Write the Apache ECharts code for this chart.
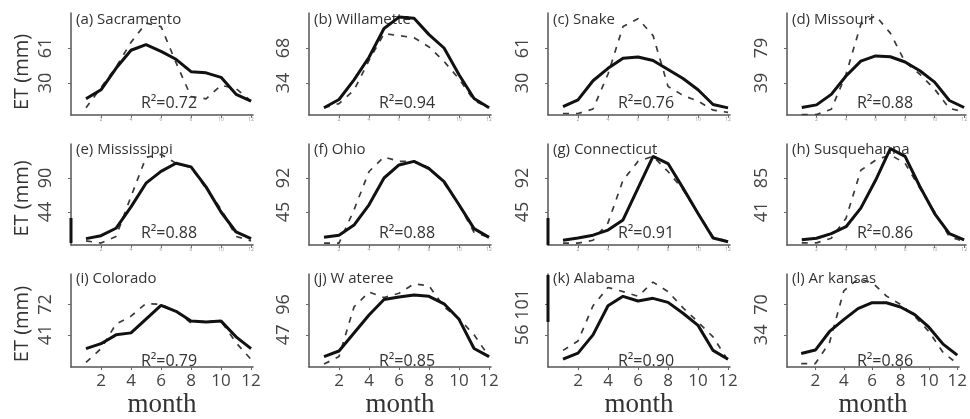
<!DOCTYPE html>
<html><head><meta charset="utf-8">
<script src="https://cdn.jsdelivr.net/npm/echarts@6/dist/echarts.min.js"></script>
<style>html,body{margin:0;padding:0;background:#fff}#c{width:970px;height:419px}</style>
</head><body><div id="c"></div>
<script>
// ---- data ----
const months = [1, 2, 3, 4, 5, 6, 7, 8, 9, 10, 11, 12];
const xTickLabels = [2, 4, 6, 8, 10, 12];
const panelTitles = ['(a) Sacramento', '(b) Willamette', '(c) Snake', '(d) Missouri',
  '(e) Mississippi', '(f) Ohio', '(g) Connecticut', '(h) Susquehanna',
  '(i) Colorado', '(j) W ateree', '(k) Alabama', '(l) Ar kansas'];
const r2Labels = ['R²=0.72', 'R²=0.94', 'R²=0.76', 'R²=0.88',
  'R²=0.88', 'R²=0.88', 'R²=0.91', 'R²=0.86',
  'R²=0.79', 'R²=0.85', 'R²=0.90', 'R²=0.86'];
const yTickLabels = [[30, 61], [34, 68], [30, 61], [39, 79],
  [44, 90], [45, 92], [45, 92], [41, 85],
  [41, 72], [47, 96], [56, 101], [34, 70]];

const sacramentoSolid  = [16, 24, 43, 59, 64, 58, 51, 40, 39, 35, 20, 14];
const sacramentoDashed = [8, 26, 44, 66, 83, 80, 48, 18, 16, 28, 25, 14];
const willametteSolid  = [10, 18, 37, 59, 87, 98, 97, 81, 68, 42, 19, 10];
const willametteDashed = [10, 14, 27, 56, 82, 80, 78, 69, 55, 38, 17, 10];
const snakeSolid       = [9, 15, 32, 43, 52, 53, 50, 42, 34, 24, 11, 8];
const snakeDashed      = [3, 3, 7, 38, 80, 87, 72, 27, 19, 14, 6, 4];
const missouriSolid    = [11, 14, 26, 47, 64, 70, 69, 63, 53, 40, 19, 11];
const missouriDashed   = [3, 3, 9, 49, 106, 116, 96, 63, 49, 32, 10, 6];
const mississippiSolid = [8, 12, 22, 51, 83, 99, 110, 105, 78, 44, 17, 8];
const mississippiDashed= [5, 2, 11, 65, 118, 122, 110, 104, 76, 48, 11, 5];
const ohioSolid        = [10, 13, 27, 55, 92, 110, 115, 105, 87, 55, 22, 10];
const ohioDashed       = [2, 2, 48, 101, 121, 115, 115, 106, 85, 55, 17, 10];
const connecticutSolid = [6, 9, 13, 20, 34, 78, 122, 112, 78, 43, 9, 4];
const connecticutDashed= [2, 2, 6, 30, 89, 115, 122, 101, 76, 43, 11, 4];
const susquehannaSolid = [5, 7, 13, 22, 46, 82, 123, 113, 74, 39, 13, 5];
const susquehannaDashed= [1, 1, 7, 33, 95, 108, 115, 104, 72, 41, 9, 3];
const coloradoSolid    = [27, 32, 41, 43, 57, 71, 65, 55, 54, 55, 39, 27];
const coloradoDashed   = [13, 27, 52, 60, 73, 72, 65, 53, 55, 55, 33, 16];
const watereeSolid     = [12, 21, 50, 79, 104, 108, 111, 109, 97, 72, 25, 12];
const watereeDashed    = [0, 12, 92, 116, 107, 114, 129, 126, 92, 73, 47, 12];
const alabamaSolid     = [20, 29, 56, 99, 113, 106, 110, 104, 88, 70, 33, 20];
const alabamaDashed    = [33, 47, 99, 126, 120, 113, 134, 120, 96, 75, 53, 18];
const arkansasSolid    = [12, 16, 38, 52, 65, 72, 72, 67, 58, 43, 23, 10];
const arkansasDashed   = [0, 0, 25, 86, 100, 96, 80, 70, 56, 38, 13, 0];

const solidSeries = [sacramentoSolid, willametteSolid, snakeSolid, missouriSolid,
  mississippiSolid, ohioSolid, connecticutSolid, susquehannaSolid,
  coloradoSolid, watereeSolid, alabamaSolid, arkansasSolid];
const dashedSeries = [sacramentoDashed, willametteDashed, snakeDashed, missouriDashed,
  mississippiDashed, ohioDashed, connecticutDashed, susquehannaDashed,
  coloradoDashed, watereeDashed, alabamaDashed, arkansasDashed];

// ---- layout ----
const colLeft = [71, 309, 548, 787];
const rowTop = [13, 144, 274];
const rowBottom = [115, 245, 375];
const rowBelowFrac = [0.914, 0.97, 1.06];
const namePad = [16, 8, 7];
const titleY = [20, 150, 279];
const r2Y = [103, 233, 361];
const plotWidth = 182;
const xMax = 12.13;
const sans = '"Open Sans", "Noto Sans", sans-serif';
// dark segments visible on some y-axis lines: [panel index, top px, bottom px]
const axisMarks = [[4, 218, 243], [6, 218, 245], [10, 275, 322]];

const grids = [], xAxes = [], yAxes = [], series = [], graphics = [];
for (let i = 0; i < 12; i++) {
  const r = Math.floor(i / 4), c = i % 4;
  const [t1, t2] = yTickLabels[i];
  const step = t2 - t1;
  grids.push({ left: colLeft[c], top: rowTop[r], width: plotWidth, height: rowBottom[r] - rowTop[r], containLabel: false });
  const bottomRow = r === 2;
  xAxes.push({
    type: 'value', gridIndex: i, min: 0, max: xMax,
    axisLine: { show: true, onZero: false, lineStyle: { color: '#555', width: 1.5 } },
    axisTick: { show: true, customValues: xTickLabels, length: 3, lineStyle: { color: '#666', width: 1 } },
    axisLabel: bottomRow
      ? { customValues: xTickLabels, fontSize: 17, color: '#444', margin: 6, fontFamily: sans }
      : { customValues: xTickLabels, fontSize: 5, color: '#999', margin: 2, fontFamily: sans },
    splitLine: { show: false },
    name: bottomRow ? 'month' : '', nameLocation: 'middle', nameGap: 20,
    nameTextStyle: { fontFamily: '"Liberation Serif", "DejaVu Serif", serif', fontSize: 27, color: '#333' }
  });
  yAxes.push({
    type: 'value', gridIndex: i,
    min: t1 - rowBelowFrac[r] * step, max: t2 + step,
    axisLine: { show: true, onZero: false, lineStyle: { color: '#555', width: 1.5 } },
    axisTick: { show: true, customValues: [t1, t2], length: 3, lineStyle: { color: '#666' } },
    axisLabel: { customValues: [t1, t2], rotate: 90, fontSize: 18, color: '#444', margin: 16, fontFamily: sans },
    splitLine: { show: false },
    name: c === 0 ? 'ET (mm)' : '', nameLocation: 'middle', nameRotate: 90, nameGap: 39,
    nameTextStyle: { fontSize: 20, color: '#333', fontFamily: sans, padding: [0, namePad[r], 0, 0] }
  });
  series.push({
    type: 'line', xAxisIndex: i, yAxisIndex: i, symbol: 'none', silent: true, z: 2,
    data: months.map((m, k) => [m, dashedSeries[i][k]]),
    lineStyle: { color: '#3a3a3a', width: 1.7, type: [6, 7] }
  });
  series.push({
    type: 'line', xAxisIndex: i, yAxisIndex: i, symbol: 'none', silent: true, z: 3,
    data: months.map((m, k) => [m, solidSeries[i][k]]),
    lineStyle: { color: '#111', width: 3 }
  });
  graphics.push({
    type: 'text', x: colLeft[c] + 5, y: titleY[r],
    style: { text: panelTitles[i], fontSize: 15, fontFamily: sans, fill: '#333',
      align: 'left', verticalAlign: 'middle', textAlign: 'left', textVerticalAlign: 'middle' }
  });
  graphics.push({
    type: 'text', x: colLeft[c] + 98, y: r2Y[r],
    style: { text: r2Labels[i], fontSize: 16, fontFamily: sans, fill: '#333',
      align: 'center', verticalAlign: 'middle', textAlign: 'center', textVerticalAlign: 'middle' }
  });
}
axisMarks.forEach(([i, y1, y2]) => {
  const c = i % 4;
  graphics.push({ type: 'line', shape: { x1: colLeft[c], y1: y1, x2: colLeft[c], y2: y2 },
    style: { stroke: '#111', lineWidth: 3 }, z: 10 });
});

const chart = echarts.init(document.getElementById('c'), null, { renderer: 'canvas' });
chart.setOption({
  animation: false,
  backgroundColor: '#fff',
  grid: grids, xAxis: xAxes, yAxis: yAxes, series: series,
  graphic: graphics
});
</script></body></html>
